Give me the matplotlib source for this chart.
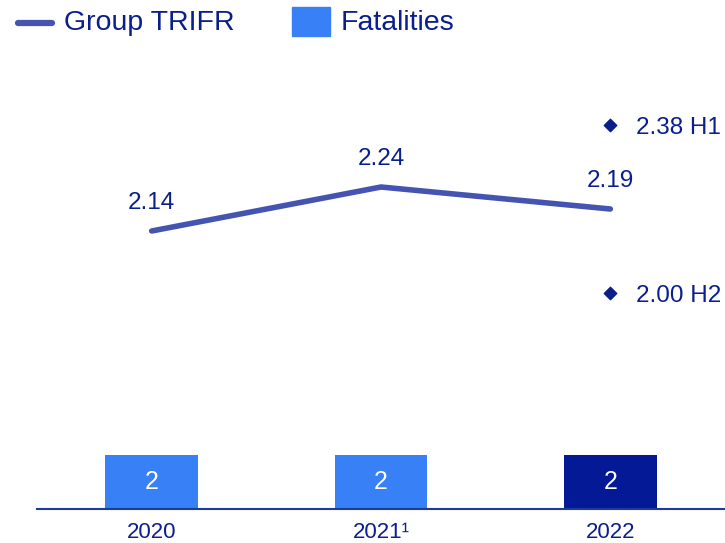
import numpy as np
import matplotlib.pyplot as plt
from matplotlib.lines import Line2D
from matplotlib.patches import Rectangle

plt.rcParams['font.family'] = ['Liberation Sans', 'DejaVu Sans']

years = ['2020', '2021\u00b9', '2022']
trifr = [2.14, 2.24, 2.19]
fatalities = [2, 2, 2]
targets = [2.38, 2.00]
target_names = ['H1', 'H2']

navy = '#0A1E8C'
line_col = '#4553B1'
bar_light = '#3880F5'
bar_dark = '#031996'

W, H = 725, 543
fig = plt.figure(figsize=(W / 100, H / 100), dpi=100)
ax = fig.add_axes([37 / W, 34 / H, 688 / W, 509 / H])
x = np.arange(len(years))

# bars (fatalities)
cols = [bar_light, bar_light, bar_dark]
ax.bar(x, fatalities, width=0.405, color=cols, zorder=2)
for xi, v in zip(x, fatalities):
    ax.text(xi, v / 2, str(v), ha='center', va='center', color='white', fontsize=18)
ax.set_ylim(0, 2 * 509 / 54)
ax.set_xlim(-0.5, 2.5)
for s in ['top', 'right', 'left']:
    ax.spines[s].set_visible(False)
ax.spines['bottom'].set_color('#1E3AA0')
ax.spines['bottom'].set_linewidth(1.5)
ax.set_yticks([])
ax.set_xticks(x)
ax.set_xticklabels(years, fontsize=16, color=navy)
ax.tick_params(axis='x', length=0, pad=9)

# line (TRIFR)
ax2 = ax.twinx()
ax2.set_ylim(2.14 - 278 / 440, 2.14 + 231 / 440)
ax2.plot(x, trifr, color=line_col, lw=4, solid_capstyle='round', zorder=3)
for xi, v in zip(x, trifr):
    ax2.text(xi, v + 28 / 440, f'{v:.2f}', ha='center', va='center',
             color=navy, fontsize=17.5)
ax2.scatter([2, 2], targets, marker='D', s=40, color=navy, zorder=4)
for v, n in zip(targets, target_names):
    ax2.text(2.11, v - 3 / 440, f'{v:.2f} {n}', ha='left', va='center',
             color=navy, fontsize=17.5)
ax2.axis('off')
ax2.set_xlim(-0.5, 2.5)

# legend drawn by hand in figure pixels
ly = 1 - 23 / H
fig.add_artist(Line2D([18 / W, 52 / W], [ly, ly], color=line_col, lw=4.5,
                      solid_capstyle='round'))
fig.text(64 / W, ly, 'Group TRIFR', ha='left', va='center', color=navy, fontsize=20.5)
fig.add_artist(Rectangle((292 / W, 1 - 36 / H), 38 / W, 29 / H, color=bar_light))
fig.text(341 / W, ly, 'Fatalities', ha='left', va='center', color=navy, fontsize=20.5)

fig.savefig('out.png', dpi=100)
